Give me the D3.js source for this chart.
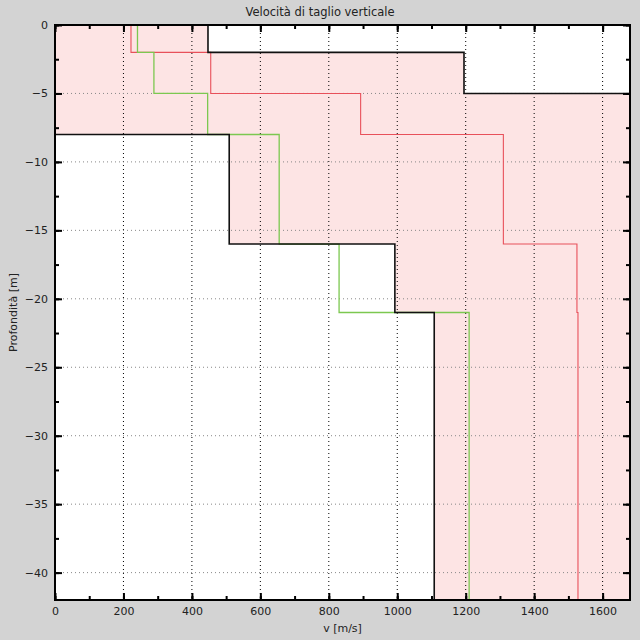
<html>
<head>
<script src="https://cdn.jsdelivr.net/npm/d3@7"></script>
<style>
  body { margin: 0; background: #d3d3d3; }
  text { font-family: "DejaVu Sans", Verdana, sans-serif; fill: #222; }
</style>
</head>
<body>
<div id="chart"></div>
<script>
// layer boundaries (depth in m, positive downward)
var layerTops    = [0, 2, 5, 8, 16, 21];
var layerBottoms = [2, 5, 8, 16, 21, 42];
// shear velocity profiles [m/s], one value per layer
var redProfile   = [222, 455, 893, 1310, 1525, 1528];
var greenProfile = [241, 289, 446, 655, 830, 1210];
var lowerBound   = [0, 0, 0, 509, 993, 1108];
var upperBound   = [447, 1195, 2000, 2000, 2000, 2000];

var xTicks = [0, 200, 400, 600, 800, 1000, 1200, 1400, 1600];
var yTicks = [0, -5, -10, -15, -20, -25, -30, -35, -40];

var width = 640, height = 640;
var margin = {top: 25, right: 10, bottom: 40, left: 55};

var svg = d3.select("#chart").append("svg")
    .attr("width", width)
    .attr("height", height);

svg.append("rect").attr("width", width).attr("height", height).attr("fill", "#d3d3d3");

var x = d3.scaleLinear().domain([0, 1680]).range([margin.left, width - margin.right]);
var y = d3.scaleLinear().domain([0, -42]).range([margin.top, height - margin.bottom]);

svg.append("clipPath").attr("id", "clip")
  .append("rect")
    .attr("x", x(0)).attr("y", y(0))
    .attr("width", x(1680) - x(0)).attr("height", y(-42) - y(0));

var plot = svg.append("g").attr("clip-path", "url(#clip)");

plot.append("rect")
    .attr("x", x(0)).attr("y", y(0))
    .attr("width", x(1680) - x(0)).attr("height", y(-42) - y(0))
    .attr("fill", "#fff");

// build step points from layers
function steps(vals) {
  var pts = [];
  vals.forEach(function(v, i) {
    pts.push({v: v, z: -layerTops[i]});
    pts.push({v: v, z: -layerBottoms[i]});
  });
  return pts;
}

var band = [];
layerTops.forEach(function(t, i) {
  band.push({lo: lowerBound[i], hi: upperBound[i], z: -t});
  band.push({lo: lowerBound[i], hi: upperBound[i], z: -layerBottoms[i]});
});

plot.append("path")
    .datum(band)
    .attr("fill", "#fde4e4")
    .attr("d", d3.area()
        .y(function(d) { return y(d.z); })
        .x0(function(d) { return x(d.lo); })
        .x1(function(d) { return x(d.hi); }));

// grid
plot.selectAll(".vgrid").data(xTicks.slice(1)).enter().append("line")
    .attr("x1", function(d) { return x(d); }).attr("x2", function(d) { return x(d); })
    .attr("y1", y(0)).attr("y2", y(-42))
    .attr("stroke", "#000").attr("stroke-width", 1).attr("stroke-dasharray", "1,3");
plot.selectAll(".hgrid").data(yTicks.slice(1)).enter().append("line")
    .attr("y1", function(d) { return y(d); }).attr("y2", function(d) { return y(d); })
    .attr("x1", x(0)).attr("x2", x(1680))
    .attr("stroke", "#888").attr("stroke-width", 1).attr("stroke-dasharray", "1,3");

var line = d3.line()
    .x(function(d) { return x(d.v); })
    .y(function(d) { return y(d.z); });

plot.append("path").datum(steps(redProfile))
    .attr("fill", "none").attr("stroke", "#e8505a").attr("stroke-width", 1.1).attr("d", line);
plot.append("path").datum(steps(greenProfile))
    .attr("fill", "none").attr("stroke", "#7cc850").attr("stroke-width", 1.3).attr("d", line);
plot.append("path").datum(steps(lowerBound))
    .attr("fill", "none").attr("stroke", "#111").attr("stroke-width", 1.6).attr("d", line);
plot.append("path").datum(steps(upperBound))
    .attr("fill", "none").attr("stroke", "#111").attr("stroke-width", 1.6).attr("d", line);

// axes with inward ticks
var xMinor = d3.range(0, 1700, 100);
var yMinor = d3.range(0, -42.5, -2.5);

svg.append("g").attr("transform", "translate(0," + y(-42) + ")")
    .call(d3.axisBottom(x).tickValues(xMinor).tickSize(-4).tickFormat(""));
svg.append("g").attr("transform", "translate(0," + y(-42) + ")")
    .call(d3.axisBottom(x).tickValues(xTicks).tickSize(-7).tickPadding(7).tickFormat(d3.format("d")));
svg.append("g").attr("transform", "translate(0," + y(0) + ")")
    .call(d3.axisTop(x).tickValues(xMinor).tickSize(-4).tickFormat(""));
svg.append("g").attr("transform", "translate(0," + y(0) + ")")
    .call(d3.axisTop(x).tickValues(xTicks).tickSize(-7).tickFormat(""));
svg.append("g").attr("transform", "translate(" + x(0) + ",0)")
    .call(d3.axisLeft(y).tickValues(yMinor).tickSize(-4).tickFormat(""));
svg.append("g").attr("transform", "translate(" + x(0) + ",0)")
    .call(d3.axisLeft(y).tickValues(yTicks).tickSize(-7).tickPadding(7).tickFormat(d3.format("d")));
svg.append("g").attr("transform", "translate(" + x(1680) + ",0)")
    .call(d3.axisRight(y).tickValues(yMinor).tickSize(-4).tickFormat(""));
svg.append("g").attr("transform", "translate(" + x(1680) + ",0)")
    .call(d3.axisRight(y).tickValues(yTicks).tickSize(-7).tickFormat(""));

svg.selectAll(".domain").remove();
svg.selectAll(".tick line").attr("stroke", "#000").attr("stroke-width", 2);
svg.selectAll(".tick text")
    .style("font-family", "DejaVu Sans, sans-serif")
    .style("font-size", "11px").attr("fill", "#222");

// frame
svg.append("rect")
    .attr("x", x(0)).attr("y", y(0))
    .attr("width", x(1680) - x(0)).attr("height", y(-42) - y(0))
    .attr("fill", "none").attr("stroke", "#000").attr("stroke-width", 2);

svg.append("text")
    .attr("x", 320).attr("y", 16)
    .attr("text-anchor", "middle")
    .style("font-size", "11.5px")
    .text("Velocità di taglio verticale");

svg.append("text")
    .attr("x", (x(0) + x(1680)) / 2).attr("y", 632)
    .attr("text-anchor", "middle")
    .style("font-size", "11px")
    .text("v [m/s]");

svg.append("text")
    .attr("transform", "translate(17," + ((y(0) + y(-42)) / 2) + ") rotate(-90)")
    .attr("text-anchor", "middle")
    .style("font-size", "11px")
    .text("Profondità [m]");
</script>
</body>
</html>
